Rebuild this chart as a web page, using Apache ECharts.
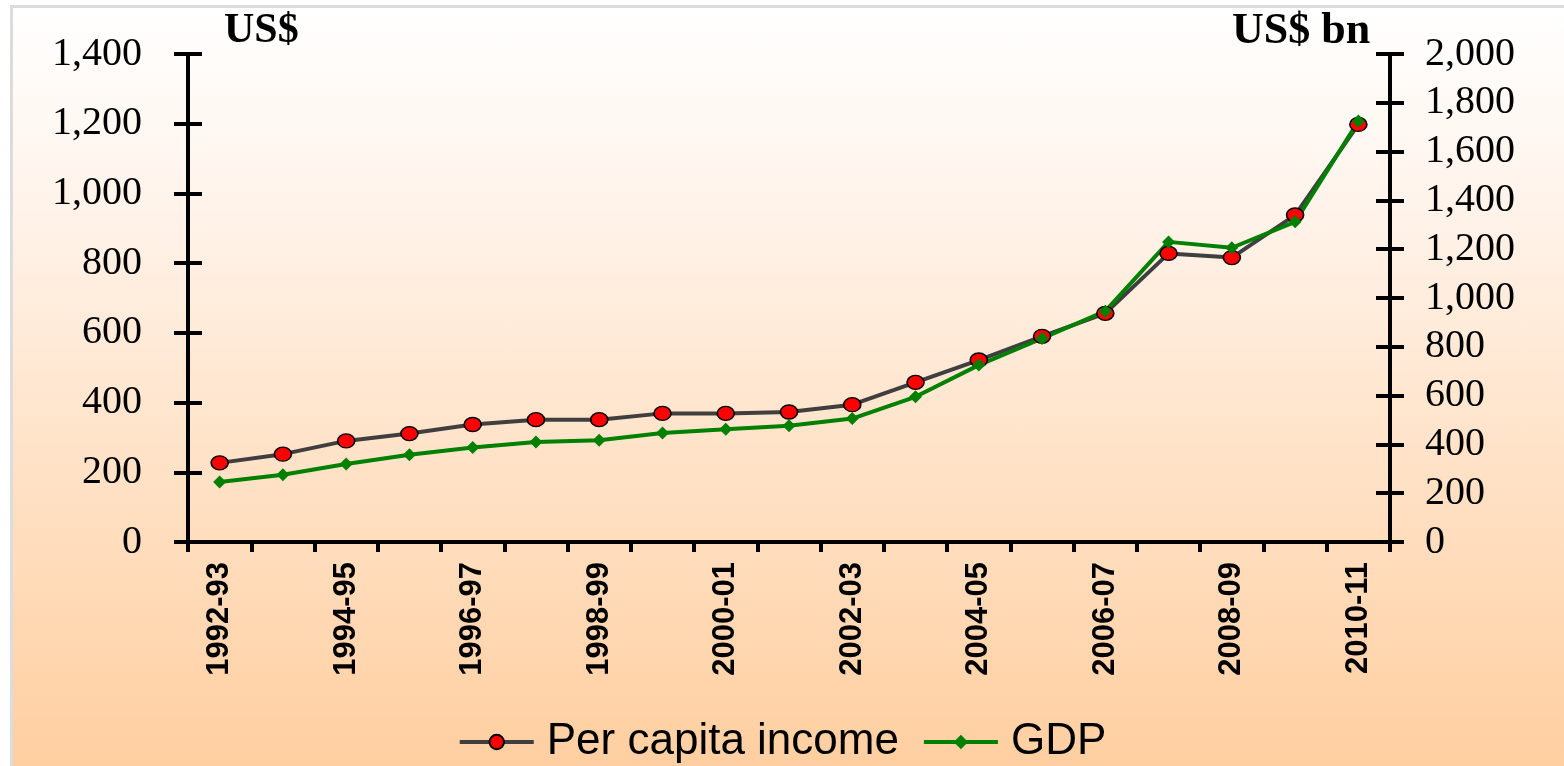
<!DOCTYPE html>
<html>
<head>
<meta charset="utf-8">
<script src="https://cdn.jsdelivr.net/npm/echarts@6/dist/echarts.min.js"></script>
<style>
  html, body { margin: 0; padding: 0; background: #fff; overflow: hidden; }
  #frame {
    position: absolute; left: 10px; top: 5px; width: 1600px; height: 800px;
    border: 3px solid #dcdcdc;
    background: linear-gradient(to bottom, #ffffff 0%, #fff3ea 25%, #ffe3c9 55%, #ffcc9b 100%);
  }
  #chart { position: absolute; left: 0; top: 0; width: 1564px; height: 766px; }
</style>
</head>
<body>
<div id="frame"></div>
<div id="chart"></div>
<script>
const years = ['1992-93', '1993-94', '1994-95', '1995-96', '1996-97', '1997-98', '1998-99',
  '1999-00', '2000-01', '2001-02', '2002-03', '2003-04', '2004-05', '2005-06', '2006-07',
  '2007-08', '2008-09', '2009-10', '2010-11']
const perCapita = [227, 252, 290, 311, 337, 351, 351, 369, 369, 373, 394, 458, 522, 590, 656, 828, 816, 938, 1198]
const gdp = [246, 276, 320, 358, 387, 410, 417, 447, 462, 476, 506, 595, 725, 834, 946, 1230, 1206, 1312, 1725]
const leftTicks = { min: 0, max: 1400, interval: 200 }
const rightTicks = { min: 0, max: 2000, interval: 200 }

const chart = echarts.init(document.getElementById('chart'), null, { renderer: 'canvas' })

const serif = "'Liberation Serif', 'Times New Roman', serif"
const sans = "'Liberation Sans', Arial, sans-serif"
const axisLine = { show: true, lineStyle: { color: '#000', width: 4 } }
const numFmt = v => v.toLocaleString('en-US')

// each y axis is drawn twice (outer + inner ticks) so the ticks cross the line
const yBase = (pos, t, inside, labels) => ({
  type: 'value',
  position: pos,
  min: t.min, max: t.max, interval: t.interval,
  axisLine: inside ? { show: false } : axisLine,
  axisTick: { show: true, inside, length: 14, lineStyle: { color: '#000', width: 4 } },
  axisLabel: labels
    ? { show: true, color: '#000', fontFamily: serif, fontSize: 40, margin: pos === 'left' ? 46 : 35, formatter: numFmt }
    : { show: false },
  splitLine: { show: false },
})

const xBase = (inside, labels) => ({
  type: 'category',
  data: years,
  boundaryGap: true,
  axisLine: inside ? { show: false } : axisLine,
  axisTick: { show: true, inside, length: 10, interval: 0, lineStyle: { color: '#000', width: 4 } },
  axisLabel: labels
    ? {
        show: true, interval: 1, rotate: 90, color: '#000', margin: 20,
        fontFamily: sans, fontWeight: 'bold', fontSize: 31,
      }
    : { show: false },
  splitLine: { show: false },
})

const option = {
  animation: false,
  backgroundColor: 'transparent',
  grid: { left: 188, right: 174, top: 54, bottom: 224 },
  xAxis: [xBase(false, true), xBase(true, false)],
  yAxis: [
    yBase('left', leftTicks, false, true),
    yBase('right', rightTicks, false, true),
    yBase('left', leftTicks, true, false),
    yBase('right', rightTicks, true, false),
  ],
  legend: {
    top: 715,
    left: 'center',
    selectedMode: false,
    itemWidth: 74,
    itemHeight: 18,
    itemGap: 23,
    lineStyle: { width: 4 },
    textStyle: { color: '#000', fontSize: 44, lineHeight: 44, fontFamily: sans, padding: [0, 0, 0, 8] },
    data: ['Per capita income', 'GDP'],
  },
  graphic: [
    { type: 'text', left: 224, top: 10, style: { text: 'US$', font: "bold 42px 'Liberation Serif', serif", fill: '#000' } },
    { type: 'text', left: 1232, top: 10, style: { text: 'US$ bn', font: "bold 44px 'Liberation Serif', serif", fill: '#000' } },
  ],
  series: [
    {
      name: 'Per capita income',
      type: 'line',
      yAxisIndex: 0,
      data: perCapita,
      symbol: 'circle',
      symbolSize: [17, 14],
      lineStyle: { color: '#3f3f3f', width: 4 },
      itemStyle: { color: '#ff0000', borderColor: '#000', borderWidth: 1.5 },
    },
    {
      name: 'GDP',
      type: 'line',
      yAxisIndex: 1,
      data: gdp,
      symbol: 'diamond',
      symbolSize: 13,
      lineStyle: { color: '#008000', width: 4 },
      itemStyle: { color: '#008000' },
    },
  ],
}

chart.setOption(option)
window.addEventListener('resize', () => chart.resize())
</script>
</body>
</html>
